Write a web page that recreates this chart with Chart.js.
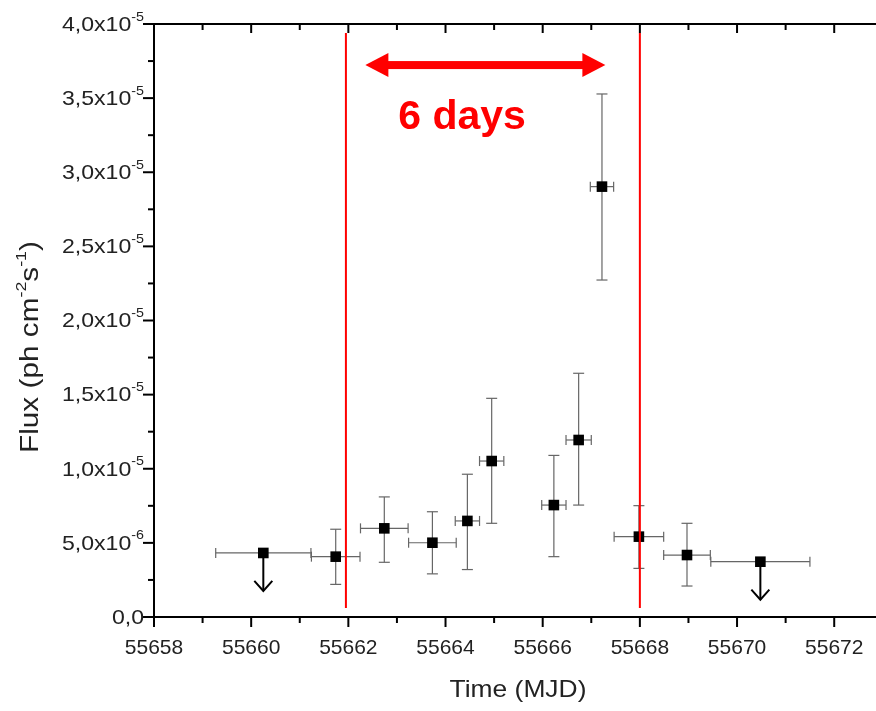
<!DOCTYPE html>
<html>
<head>
<meta charset="utf-8">
<script src="https://cdn.jsdelivr.net/npm/chart.js@4.4.1/dist/chart.umd.min.js"></script>
<style>
  html, body { margin: 0; padding: 0; background: #fff; }
  #wrap { width: 876px; height: 711px; }
</style>
</head>
<body>
<div id="wrap"><canvas id="myChart" width="876" height="711"></canvas></div>
<script>
// light curve points (MJD, flux in ph cm^-2 s^-1)
var times = [55660.25, 55661.74, 55662.74, 55663.73, 55664.45, 55664.95, 55666.23, 55666.74, 55667.22, 55667.98, 55668.97, 55670.48];
var flux = [4.32e-6, 4.07e-6, 5.98e-6, 5.01e-6, 6.48e-6, 1.052e-5, 7.55e-6, 1.194e-5, 2.903e-5, 5.42e-6, 4.18e-6, 3.73e-6];
var timeErr = [0.98, 0.50, 0.49, 0.49, 0.25, 0.25, 0.25, 0.26, 0.24, 0.51, 0.48, 1.02];
var fluxErrLow = [0, 1.87e-6, 2.29e-6, 2.10e-6, 3.28e-6, 4.20e-6, 3.48e-6, 4.39e-6, 6.30e-6, 2.14e-6, 2.09e-6, 0];
var fluxErrHigh = [0, 1.85e-6, 2.12e-6, 2.09e-6, 3.15e-6, 4.23e-6, 3.35e-6, 4.50e-6, 6.25e-6, 2.09e-6, 2.14e-6, 0];
var upperLimit = [true, false, false, false, false, false, false, false, false, false, false, true];

// red window lines and the "6 days" marker
var windowStart = [55661.95];
var windowEnd = [55668.0];
var windowY = [6e-7, 3.94e-5];
var spanArrowX = [55662.35, 55667.29];
var spanArrowY = 3.723e-5;
var spanLabel = '6 days';
var spanLabelPos = [55664.34, 3.366e-5];

// axes
var xTicks = [55658, 55660, 55662, 55664, 55666, 55668, 55670, 55672];
var yTicks = [0, 5e-6, 1e-5, 1.5e-5, 2e-5, 2.5e-5, 3e-5, 3.5e-5, 4e-5];
var yTickLabels = ['0,0', '5,0x10^-6', '1,0x10^-5', '1,5x10^-5', '2,0x10^-5', '2,5x10^-5', '3,0x10^-5', '3,5x10^-5', '4,0x10^-5'];
var xTitle = 'Time (MJD)';

var FONT = "'Liberation Sans', Arial, sans-serif";
var TXT = '#222';

function lineAt(ctx, x1, y1, x2, y2) {
  ctx.beginPath();
  ctx.moveTo(x1, y1);
  ctx.lineTo(x2, y2);
  ctx.stroke();
}

// text pieces with superscripts, parts = [[text, isSup], ...]
function partsWidth(ctx, parts, size, supSize) {
  var w = 0;
  parts.forEach(function (p) {
    ctx.font = (p[1] ? supSize : size) + 'px ' + FONT;
    w += ctx.measureText(p[0]).width;
  });
  return w;
}
function drawParts(ctx, parts, x, y, size, supSize, rise) {
  parts.forEach(function (p) {
    ctx.font = (p[1] ? supSize : size) + 'px ' + FONT;
    ctx.fillText(p[0], x, p[1] ? y - rise : y);
    x += ctx.measureText(p[0]).width;
  });
}
// draws parts stretched horizontally by sx, anchored at (x, y) with align 'right' or 'center'
function drawStretched(ctx, parts, x, y, size, supSize, rise, sx, align) {
  var w = partsWidth(ctx, parts, size, supSize);
  ctx.save();
  ctx.translate(x, y);
  ctx.scale(sx, 1);
  drawParts(ctx, parts, align === 'right' ? -w : -w / 2, 0, size, supSize, rise);
  ctx.restore();
}

var errorBars = {
  id: 'errorBars',
  // plot frame runs to the right edge of the picture
  afterLayout: function (chart) {
    var xs = chart.scales.x, a = chart.chartArea;
    xs.right = chart.width;
    xs.width = xs.right - xs.left;
    xs.configure();
    a.right = chart.width;
    a.width = a.right - a.left;
  },
  beforeDatasetsDraw: function (chart) {
    var ctx = chart.ctx, xs = chart.scales.x, ys = chart.scales.y;
    ctx.save();
    ctx.strokeStyle = '#666';
    ctx.lineWidth = 1.2;
    for (var i = 0; i < times.length; i++) {
      var px = xs.getPixelForValue(times[i]);
      var py = ys.getPixelForValue(flux[i]);
      var x1 = xs.getPixelForValue(times[i] - timeErr[i]);
      var x2 = xs.getPixelForValue(times[i] + timeErr[i]);
      lineAt(ctx, x1, py, x2, py);
      lineAt(ctx, x1, py - 5, x1, py + 5);
      lineAt(ctx, x2, py - 5, x2, py + 5);
      if (!upperLimit[i]) {
        var y1 = ys.getPixelForValue(flux[i] + fluxErrHigh[i]);
        var y2 = ys.getPixelForValue(flux[i] - fluxErrLow[i]);
        lineAt(ctx, px, y1, px, y2);
        lineAt(ctx, px - 5.5, y1, px + 5.5, y1);
        lineAt(ctx, px - 5.5, y2, px + 5.5, y2);
      }
    }
    ctx.restore();
  },
  afterDatasetsDraw: function (chart) {
    var ctx = chart.ctx, xs = chart.scales.x, ys = chart.scales.y;
    ctx.save();
    // upper limit arrows
    ctx.strokeStyle = '#000';
    ctx.lineWidth = 2;
    for (var i = 0; i < times.length; i++) {
      if (!upperLimit[i]) continue;
      var px = xs.getPixelForValue(times[i]);
      var py = ys.getPixelForValue(flux[i]);
      lineAt(ctx, px, py, px, py + 38);
      ctx.beginPath();
      ctx.moveTo(px - 9, py + 28);
      ctx.lineTo(px, py + 38);
      ctx.lineTo(px + 9, py + 28);
      ctx.stroke();
    }
    // double arrow
    var ax1 = xs.getPixelForValue(spanArrowX[0]);
    var ax2 = xs.getPixelForValue(spanArrowX[1]);
    var ay = ys.getPixelForValue(spanArrowY);
    ctx.fillStyle = '#ff0000';
    ctx.fillRect(ax1 + 20, ay - 4, ax2 - ax1 - 40, 8);
    ctx.beginPath();
    ctx.moveTo(ax1, ay);
    ctx.lineTo(ax1 + 23, ay - 12);
    ctx.lineTo(ax1 + 23, ay + 12);
    ctx.closePath();
    ctx.fill();
    ctx.beginPath();
    ctx.moveTo(ax2, ay);
    ctx.lineTo(ax2 - 23, ay - 12);
    ctx.lineTo(ax2 - 23, ay + 12);
    ctx.closePath();
    ctx.fill();
    ctx.font = 'bold 41px ' + FONT;
    ctx.textAlign = 'center';
    ctx.textBaseline = 'middle';
    ctx.fillText(spanLabel, xs.getPixelForValue(spanLabelPos[0]), ys.getPixelForValue(spanLabelPos[1]));
    ctx.restore();
  },
  afterDraw: function (chart) {
    var ctx = chart.ctx, xs = chart.scales.x, ys = chart.scales.y, a = chart.chartArea;
    var edge = chart.width;
    ctx.save();
    ctx.strokeStyle = '#000';
    ctx.lineWidth = 2;
    // frame (right side runs off the picture)
    lineAt(ctx, a.left, a.top, edge, a.top);
    lineAt(ctx, a.left, a.top - 1, a.left, a.bottom + 1);
    lineAt(ctx, a.left - 1, a.bottom, edge, a.bottom);
    // x ticks: major every 2, minor between
    for (var v = xs.min; v <= xs.max; v += 1) {
      var px = xs.getPixelForValue(v);
      var major = (v - xs.min) % 2 === 0;
      lineAt(ctx, px, a.bottom, px, a.bottom + (major ? 10 : 6));
      lineAt(ctx, px, a.top, px, a.top + (major ? 9 : 6));
    }
    // y ticks
    for (var k = 0; k <= 16; k++) {
      var py = ys.getPixelForValue(k * 2.5e-6);
      lineAt(ctx, a.left, py, a.left - (k % 2 === 0 ? 11 : 6), py);
    }
    ctx.fillStyle = TXT;
    ctx.textBaseline = 'middle';
    // x tick labels
    ctx.textAlign = 'center';
    ctx.font = '21px ' + FONT;
    xTicks.forEach(function (t) {
      ctx.fillText(String(t), xs.getPixelForValue(t), a.bottom + 31);
    });
    ctx.textAlign = 'left';
    // y tick labels with exponents
    yTicks.forEach(function (t, i) {
      var s = yTickLabels[i].split('^');
      var parts = [[s[0], false]];
      if (s[1]) parts.push([s[1], true]);
      drawStretched(ctx, parts, 144, ys.getPixelForValue(t) + 1, 21, 13, 8, 1.1, 'right');
    });
    // x axis title
    drawStretched(ctx, [[xTitle, false]], 518, 690, 24, 15, 0, 1.1, 'center');
    // y axis title
    ctx.translate(31, 347);
    ctx.rotate(-Math.PI / 2);
    var tparts = [['Flux (ph cm', false], ['-2', true], ['s', false], ['-1', true], [')', false]];
    drawStretched(ctx, tparts, 0, 0, 25, 15, 9, 1.19, 'center');
    ctx.restore();
  }
};

var points = times.map(function (t, i) { return { x: t, y: flux[i] }; });

new Chart(document.getElementById('myChart'), {
  type: 'scatter',
  data: {
    datasets: [
      {
        data: [{ x: windowStart[0], y: windowY[0] }, { x: windowStart[0], y: windowY[1] }],
        showLine: true, borderColor: '#ff0000', borderWidth: 2, pointRadius: 0
      },
      {
        data: [{ x: windowEnd[0], y: windowY[0] }, { x: windowEnd[0], y: windowY[1] }],
        showLine: true, borderColor: '#ff0000', borderWidth: 2, pointRadius: 0
      },
      {
        data: points,
        pointStyle: 'rect', pointRadius: 7.5, pointHoverRadius: 7.5,
        backgroundColor: '#000', borderColor: '#000', borderWidth: 0
      }
    ]
  },
  options: {
    responsive: false,
    animation: false,
    events: [],
    layout: { padding: { top: 24, right: 0, left: 0, bottom: 0 } },
    plugins: { legend: { display: false }, tooltip: { enabled: false } },
    scales: {
      x: {
        type: 'linear',
        min: 55658,
        max: 55672.86,
        afterBuildTicks: function (s) { s.ticks = xTicks.map(function (v) { return { value: v }; }); },
        afterFit: function (s) { s.height = 94; },
        grid: { display: false, drawTicks: false },
        border: { display: false },
        ticks: { display: false }
      },
      y: {
        min: 0,
        max: 4e-5,
        afterBuildTicks: function (s) { s.ticks = yTicks.map(function (v) { return { value: v }; }); },
        afterFit: function (s) { s.width = 154; },
        grid: { display: false, drawTicks: false },
        border: { display: false },
        ticks: { display: false }
      }
    }
  },
  plugins: [errorBars]
});
</script>
</body>
</html>
